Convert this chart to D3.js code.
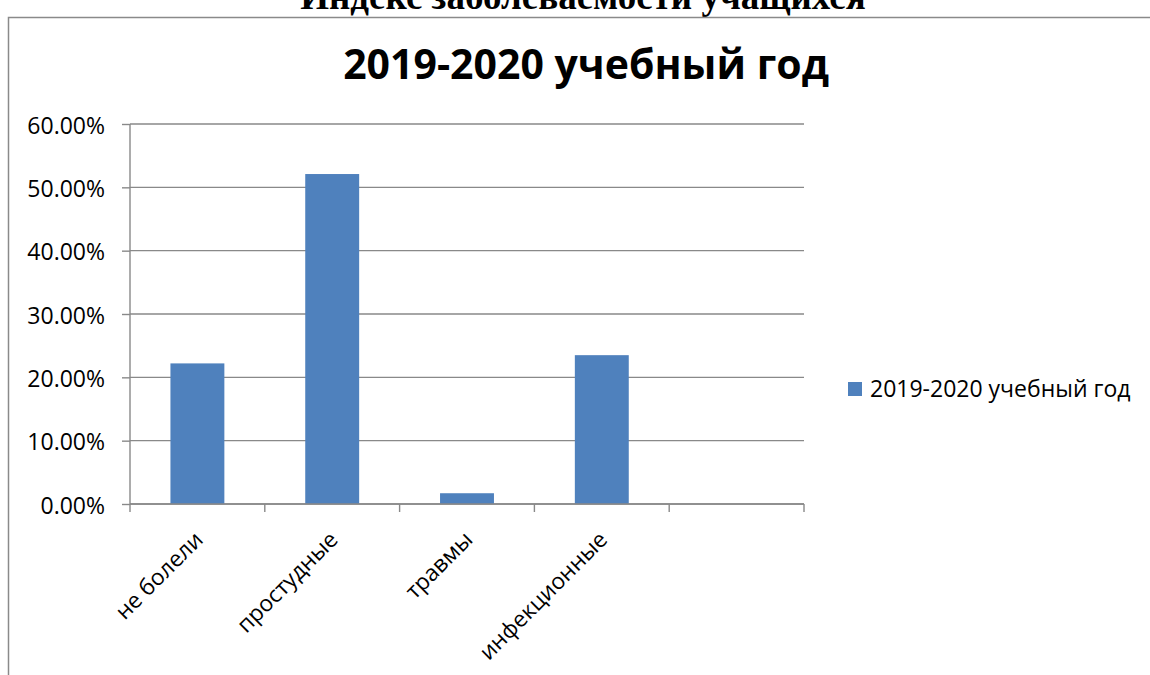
<!DOCTYPE html>
<html>
<head>
<meta charset="utf-8">
<script src="https://cdn.jsdelivr.net/npm/d3@7"></script>
<style>
  html, body { margin: 0; padding: 0; background: #fff; }
  svg { display: block; }
  .sans { font-family: "Open Sans", "Noto Sans", sans-serif; }
</style>
</head>
<body>
<svg id="chart" width="1150" height="675"></svg>
<script>
// Incidence among pupils, 2019-2020 school year
const categories = ["не болели", "простудные", "травмы", "инфекционные", ""];
const values = [0.222, 0.521, 0.017, 0.235, null];
const yTicks = [0, 0.1, 0.2, 0.3, 0.4, 0.5, 0.6];
const seriesName = "2019-2020 учебный год";
const docTitle = "Индекс заболеваемости учащихся";

const svg = d3.select("#chart");
const plot = { left: 130, right: 804, top: 124, bottom: 504 };
const barColor = "#4F81BD";
const lineColor = "#898989";

// document heading above the chart frame (runs off the top edge of the page)
svg.append("text")
  .attr("x", 583).attr("y", 9)
  .attr("text-anchor", "middle")
  .style("font-family", "'Liberation Serif', 'Times New Roman', serif")
  .style("font-weight", "bold")
  .style("font-size", "37px")
  .text(docTitle);

// chart frame
svg.append("rect")
  .attr("x", 8.5).attr("y", 17.5)
  .attr("width", 1200).attr("height", 700)
  .attr("fill", "none")
  .attr("stroke", "#8a8a8a")
  .attr("stroke-width", 1.5);

// chart title
svg.append("text")
  .attr("class", "sans")
  .attr("x", 586).attr("y", 79)
  .attr("text-anchor", "middle")
  .style("font-weight", "bold")
  .style("font-size", "41px")
  .text(seriesName);

const x = d3.scaleBand()
  .domain(categories.map((d, i) => i))
  .range([plot.left, plot.right])
  .paddingInner(0.6)
  .paddingOuter(0.3);

const y = d3.scaleLinear()
  .domain([0, 0.6])
  .range([plot.bottom, plot.top]);

// horizontal gridlines
svg.append("g")
  .selectAll("line")
  .data(yTicks)
  .join("line")
  .attr("x1", plot.left).attr("x2", plot.right)
  .attr("y1", d => y(d)).attr("y2", d => y(d))
  .attr("stroke", lineColor)
  .attr("stroke-width", 1.4);

// bars
svg.append("g")
  .selectAll("rect")
  .data(values.map((v, i) => ({ v, i })).filter(d => d.v != null))
  .join("rect")
  .attr("x", d => x(d.i))
  .attr("width", x.bandwidth())
  .attr("y", d => y(d.v))
  .attr("height", d => y(0) - y(d.v))
  .attr("fill", barColor);

// y axis
const yAxis = d3.axisLeft(y)
  .tickValues(yTicks)
  .tickFormat(d => (d * 100).toFixed(2) + "%")
  .tickSize(8)
  .tickPadding(17);
const gy = svg.append("g")
  .attr("transform", `translate(${plot.left},0)`)
  .call(yAxis);
gy.select(".domain").attr("stroke", lineColor).attr("stroke-width", 1.4).attr("d", `M0,${plot.top}V${plot.bottom}`);
gy.selectAll(".tick line").attr("stroke", lineColor).attr("stroke-width", 1.4);
gy.selectAll(".tick text")
  .attr("class", "sans")
  .style("font-size", "23px")
  .attr("fill", "#000")
  .attr("dy", "0.4em");

// x axis: ticks on category boundaries
const step = x.step();
const boundaries = d3.range(categories.length + 1).map(i => plot.left + i * step);
svg.append("line")
  .attr("x1", plot.left).attr("x2", plot.right)
  .attr("y1", plot.bottom).attr("y2", plot.bottom)
  .attr("stroke", lineColor).attr("stroke-width", 1.4);
svg.append("g")
  .selectAll("line")
  .data(boundaries)
  .join("line")
  .attr("x1", d => d).attr("x2", d => d)
  .attr("y1", plot.bottom).attr("y2", plot.bottom + 8)
  .attr("stroke", lineColor).attr("stroke-width", 1.4);

// rotated category labels
svg.append("g")
  .selectAll("text")
  .data(categories.map((c, i) => ({ c, i })).filter(d => d.c))
  .join("text")
  .attr("class", "sans")
  .attr("text-anchor", "end")
  .style("font-size", "22.6px")
  .attr("transform", d => `translate(${x(d.i) + x.bandwidth() / 2 + 7},${plot.bottom + 37}) rotate(-45)`)
  .text(d => d.c);

// legend
const lg = svg.append("g").attr("transform", "translate(848,382)");
lg.append("rect").attr("width", 14).attr("height", 14).attr("fill", barColor);
lg.append("text")
  .attr("class", "sans")
  .attr("x", 22).attr("y", 15)
  .style("font-size", "23px")
  .text(seriesName);
</script>
</body>
</html>
